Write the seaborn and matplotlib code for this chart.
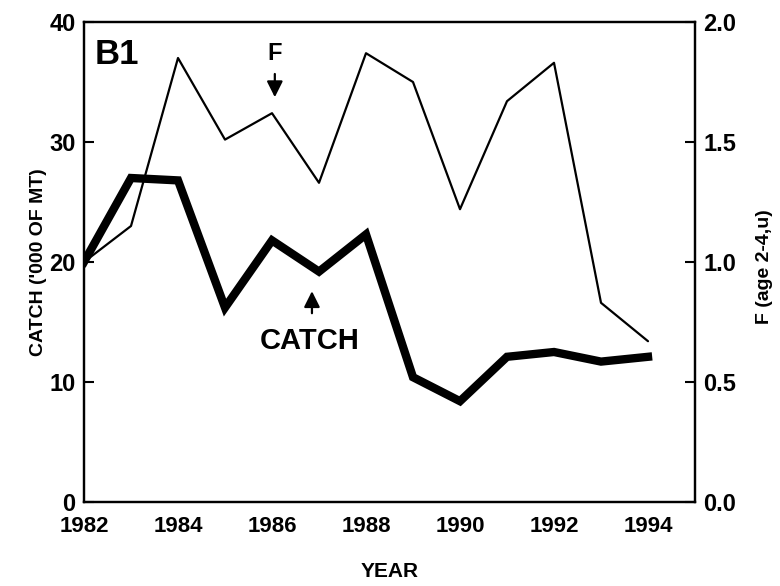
import matplotlib
matplotlib.use("Agg")
import matplotlib.pyplot as plt
import seaborn as sns
import pandas as pd

# Values (B1 panel)
years = [1982, 1983, 1984, 1985, 1986, 1987, 1988, 1989, 1990, 1991, 1992, 1993, 1994]
catch = [20.0, 27.0, 26.8, 16.2, 21.8, 19.2, 22.3, 10.4, 8.4, 12.1, 12.5, 11.7, 12.1]
f_mort = [1.00, 1.15, 1.85, 1.51, 1.62, 1.33, 1.87, 1.75, 1.22, 1.67, 1.83, 0.83, 0.67]

year_ticks = [1982, 1984, 1986, 1988, 1990, 1992, 1994]
catch_ticks = [0, 10, 20, 30, 40]
f_ticks = [0.0, 0.5, 1.0, 1.5, 2.0]

df = pd.DataFrame({"year": years, "catch": catch, "F": f_mort})

sns.set_style("white")
plt.rcParams["font.family"] = ["Liberation Sans", "DejaVu Sans"]
plt.rcParams["font.weight"] = "bold"
# seaborn greys out text; the scan is pure black
for key in ("text.color", "axes.labelcolor", "xtick.color", "ytick.color", "axes.edgecolor"):
    plt.rcParams[key] = "black"

fig = plt.figure(figsize=(7.8, 5.86), dpi=100)
ax = fig.add_axes([84 / 780, 1 - 502 / 586, (695 - 84) / 780, (502 - 22) / 586])
ax2 = ax.twinx()

# thick line = catch (left axis), thin line = F (right axis)
sns.lineplot(data=df, x="year", y="catch", ax=ax, color="black", linewidth=6,
             legend=False, solid_joinstyle="miter", solid_capstyle="projecting")
sns.lineplot(data=df, x="year", y="F", ax=ax2, color="black",
             linewidth=1.6, legend=False)

ax.set_xlim(1982, 1995)
ax.set_ylim(0, 40)
ax2.set_ylim(0, 2)

ax.set_xticks(year_ticks)
ax.set_yticks(catch_ticks)
ax2.set_yticks(f_ticks)
ax2.set_yticklabels([f"{v:.1f}" for v in f_ticks])

for a in (ax, ax2):
    a.tick_params(direction="in", length=7, width=1.5, labelsize=17, pad=6)
    for s in a.spines.values():
        s.set_color("black")
        s.set_linewidth(1.6)
ax.tick_params(axis="x", labelsize=16, pad=10)

ax.set_xlabel("YEAR", fontsize=15, fontweight="bold")
ax.xaxis.set_label_coords(0.5, -0.125)
ax.set_ylabel("CATCH ('000 OF MT)", fontsize=14, fontweight="bold")
ax.yaxis.set_label_coords(-0.06, 0.5)
ax2.set_ylabel("F (age 2-4,u)", fontsize=14, fontweight="bold")
ax2.yaxis.set_label_coords(1.100, 0.49)

# panel tag and series labels with arrows
ax.text(1982.7, 37.25, "B1", fontsize=25, ha="center", va="center")
ax.text(1986.06, 37.4, "F", fontsize=17, ha="center", va="center")
arrow = dict(arrowstyle="-|>", color="black", lw=1.6, mutation_scale=24)
ax.annotate("", xy=(1986.06, 33.5), xytext=(1986.06, 35.9), arrowprops=arrow)
ax.text(1986.8, 13.4, "CATCH", fontsize=21, ha="center", va="center")
ax.annotate("", xy=(1986.85, 17.8), xytext=(1986.85, 15.5), arrowprops=arrow)

fig.savefig("out.png", dpi=100)
